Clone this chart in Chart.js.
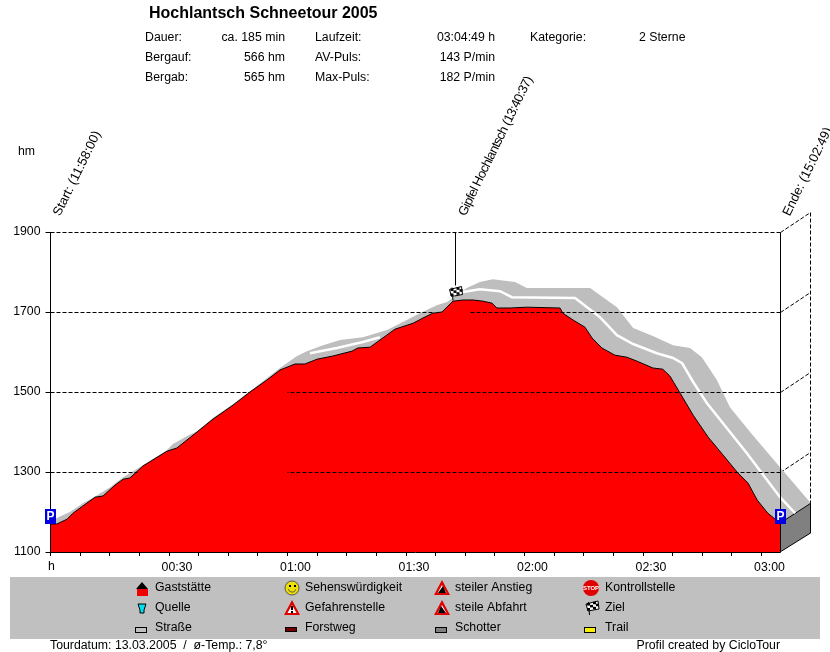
<!DOCTYPE html>
<html>
<head>
<meta charset="utf-8">
<title>Hochlantsch Schneetour 2005</title>
<script src="https://cdn.jsdelivr.net/npm/chart.js@4"></script>
<style>
body { margin: 0; background: #fff; }
#wrap { width: 830px; height: 652px; }
</style>
</head>
<body>
<div id="wrap"><canvas id="myChart" width="830" height="652"></canvas></div>
<script>
// front edge of the profile (red)
const profileMinutes = [0, 1.6, 4.2, 5.7, 8.2, 11.3, 13.3, 16.3, 18.4, 20.1, 23.4, 29.5, 32, 37.1, 41.1, 46.2, 50.5, 54.8, 58.1, 61.9, 64.4, 67.5, 71.5, 76.3, 77.8, 80.9, 87.2, 91.8, 94.3, 96.8, 99.1, 101.9, 104.4, 107, 109.5, 111.8, 113, 116.3, 120.6, 129, 129.7, 132.3, 135.3, 137.1, 139.6, 142.9, 145.9, 148.5, 152.5, 155, 156.8, 159.4, 162.7, 166.5, 170.3, 173.8, 176.6, 178.9, 181.6, 184.7];
const profileHm = [1170, 1170, 1182, 1197, 1215, 1237, 1240, 1267, 1282, 1285, 1315, 1352, 1360, 1400, 1432, 1467, 1500, 1530, 1555, 1570, 1570, 1582, 1590, 1602, 1610, 1612, 1657, 1672, 1685, 1697, 1700, 1727, 1730, 1730, 1727, 1722, 1710, 1710, 1712, 1710, 1697, 1680, 1662, 1635, 1610, 1592, 1587, 1577, 1560, 1557, 1540, 1497, 1442, 1387, 1342, 1300, 1272, 1230, 1197, 1172];

// back edge of the road band (grey)
const bandMinutes = [0.1, 1.6, 4.9, 8.2, 11.8, 15.1, 18.4, 20.1, 23.4, 29.5, 31, 34.6, 37.1, 41.1, 46.2, 50.5, 54.8, 58.1, 62.4, 64.9, 69, 73.3, 79.1, 85.2, 89.2, 93.5, 97.8, 100.4, 105.4, 108.7, 112, 117.6, 120.6, 136.6, 143.4, 147.5, 152.5, 157.6, 161.9, 164.9, 168.7, 172, 177.8, 184.7, 192.5];
const bandHm = [1172, 1185, 1200, 1222, 1242, 1262, 1287, 1297, 1317, 1355, 1370, 1390, 1402, 1435, 1470, 1502, 1535, 1560, 1590, 1602, 1617, 1630, 1637, 1655, 1675, 1697, 1717, 1725, 1760, 1775, 1782, 1775, 1760, 1760, 1712, 1660, 1640, 1617, 1610, 1587, 1530, 1462, 1392, 1312, 1222];

// white centre line, null = hidden stretch
const centreMinutes = [65.7, 72.5, 79.1, 83.4, null, 104.4, 108.7, 113.8, 116.8, 132.8, 139.1, 143.4, 147.5, 153.5, 157.6, 159.9, 162.7, 166.2, 171.2, 176.3, 181.4, 184.7, 188.5];
const centreHm = [1597, 1610, 1625, 1637, null, 1750, 1757, 1752, 1737, 1735, 1687, 1642, 1620, 1597, 1585, 1572, 1525, 1472, 1410, 1347, 1280, 1237, 1197];

// side wall at the end of the band
const sideMinutes = [184.7, 192.5, 192.5, 184.7];
const sideHm = [1172, 1222, 1148, 1100];

const yTicks = [1100, 1300, 1500, 1700, 1900];
const xTicks = [0, 7.5, 15, 22.5, 30, 37.5, 45, 52.5, 60, 67.5, 75, 82.5, 90, 97.5, 105, 112.5, 120, 127.5, 135, 142.5, 150, 157.5, 165, 172.5, 180];
const xLabels = { 30: '00:30', 60: '01:00', 90: '01:30', 120: '02:00', 150: '02:30', 180: '03:00' };

const endMinute = 184.7;
const wallMinute = 192.5;
const depthHm = 48;
const summitMinute = 102.6;

const markerMinutes = [0, summitMinute, endMinute];
const markerTexts = ['Start: (11:58:00)', 'Gipfel Hochlantsch (13:40:37)', 'Ende: (15:02:49)'];
const markerSpacing = ['0px', '-0.65px', '0px'];

const title = 'Hochlantsch Schneetour 2005';
const statColumns = [
    { labels: ['Dauer:', 'Bergauf:', 'Bergab:'], values: ['ca. 185 min', '566 hm', '565 hm'], lx: 145, vx: 285 },
    { labels: ['Laufzeit:', 'AV-Puls:', 'Max-Puls:'], values: ['03:04:49 h', '143 P/min', '182 P/min'], lx: 315, vx: 495 }
];
const legendNames = [
    ['Gaststätte', 'Quelle', 'Straße'],
    ['Sehenswürdigkeit', 'Gefahrenstelle', 'Forstweg'],
    ['steiler Anstieg', 'steile Abfahrt', 'Schotter'],
    ['Kontrollstelle', 'Ziel', 'Trail']
];

const FAMILY = '"Liberation Sans", Arial, sans-serif';
const FONT = '12.3px ' + FAMILY;

function toPoints(xs, ys) {
    return xs.map((x, i) => ({ x: x, y: ys[i] }));
}

function crisp(v) {
    return Math.round(v - 0.5) + 0.5;
}

function line(ctx, x1, y1, x2, y2, dash) {
    ctx.save();
    ctx.strokeStyle = '#000';
    ctx.lineWidth = 1;
    ctx.setLineDash(dash ? [4, 2] : []);
    ctx.beginPath();
    ctx.moveTo(x1, y1);
    ctx.lineTo(x2, y2);
    ctx.stroke();
    ctx.restore();
}

function text(ctx, str, x, y, align, font, color) {
    ctx.font = font || FONT;
    ctx.fillStyle = color || '#000';
    ctx.textAlign = align || 'left';
    ctx.textBaseline = 'middle';
    ctx.fillText(str, x, y + 1);
}

function poly(ctx, pts, fill, stroke) {
    ctx.beginPath();
    pts.forEach((p, i) => i ? ctx.lineTo(p[0], p[1]) : ctx.moveTo(p[0], p[1]));
    ctx.closePath();
    if (fill) { ctx.fillStyle = fill; ctx.fill(); }
    if (stroke) { ctx.strokeStyle = stroke; ctx.lineWidth = 1; ctx.stroke(); }
}

function drawFlag(ctx, x, y) {
    // x,y = foot of the pole
    line(ctx, x + 0.5, y, x - 0.5, y - 13);
    poly(ctx, [[x - 3, y - 11], [x + 9, y - 14], [x + 10, y - 6], [x - 1, y - 4]], '#fff', '#000');
    ctx.fillStyle = '#000';
    for (let r = 0; r < 3; r++) {
        for (let c = 0; c < 4; c++) {
            if ((r + c) % 2 === 0) ctx.fillRect(x - 2 + c * 3, y - 12 + r * 2.5 - c * 0.6, 3, 2.5);
        }
    }
}

function drawParking(ctx, x, y) {
    ctx.fillStyle = '#0000e0';
    ctx.fillRect(x - 5.5, y - 7, 11, 15);
    text(ctx, 'P', x, y, 'center', 'bold 12px ' + FAMILY, '#fff');
}

function warnTriangle(ctx, cx, cy) {
    poly(ctx, [[cx, cy - 8], [cx + 8, cy + 7], [cx - 8, cy + 7]], '#e00000');
    poly(ctx, [[cx, cy - 3], [cx + 4.5, cy + 5], [cx - 4.5, cy + 5]], '#fff');
}

const legendIcons = [
    [
        (c, x, y) => { c.fillStyle = '#f00000'; c.fillRect(x - 5, y + 1, 11, 7); poly(c, [[x, y - 6], [x + 6, y + 1], [x - 6, y + 1]], '#000'); },
        (c, x, y) => { poly(c, [[x - 4, y - 4], [x + 4, y - 4], [x + 2, y + 2], [x + 2, y + 5], [x - 2, y + 5], [x - 2, y + 2]], '#00e0f0', '#000'); },
        (c, x, y) => { c.fillStyle = '#c0c0c0'; c.strokeStyle = '#000'; c.lineWidth = 1; c.fillRect(x - 6.5, y - 0.5, 11, 5); c.strokeRect(x - 6.5, y - 0.5, 11, 5); }
    ],
    [
        (c, x, y) => {
            c.beginPath(); c.arc(x, y, 7, 0, Math.PI * 2); c.fillStyle = '#f0e000'; c.fill(); c.strokeStyle = '#555'; c.lineWidth = 1; c.stroke();
            c.fillStyle = '#000'; c.fillRect(x - 3, y - 3, 2, 2); c.fillRect(x + 2, y - 3, 2, 2);
            c.beginPath(); c.arc(x, y, 4, 0.3, Math.PI - 0.3); c.stroke();
        },
        (c, x, y) => { warnTriangle(c, x, y); c.fillStyle = '#000'; c.fillRect(x - 1, y - 2, 2, 4); c.fillRect(x - 1, y + 3, 2, 2); },
        (c, x, y) => { c.fillStyle = '#700000'; c.strokeStyle = '#000'; c.lineWidth = 1; c.fillRect(x - 6.5, y - 0.5, 11, 4); c.strokeRect(x - 6.5, y - 0.5, 11, 4); }
    ],
    [
        (c, x, y) => { warnTriangle(c, x, y); poly(c, [[x + 4, y + 5], [x - 4, y + 5], [x + 1, y - 2]], '#000'); },
        (c, x, y) => { warnTriangle(c, x, y); poly(c, [[x - 4, y + 5], [x + 4, y + 5], [x - 1, y - 2]], '#000'); },
        (c, x, y) => { c.fillStyle = '#808080'; c.strokeStyle = '#000'; c.lineWidth = 1; c.fillRect(x - 6.5, y - 0.5, 11, 5); c.strokeRect(x - 6.5, y - 0.5, 11, 5); }
    ],
    [
        (c, x, y) => {
            c.beginPath(); c.arc(x, y, 8, 0, Math.PI * 2); c.fillStyle = '#e00000'; c.fill();
            c.font = 'bold 6px ' + FAMILY; c.fillStyle = '#fff'; c.textAlign = 'center'; c.textBaseline = 'middle'; c.fillText('STOP', x, y + 0.5);
        },
        (c, x, y) => { drawFlag(c, x - 2, y + 7); },
        (c, x, y) => { c.fillStyle = '#f8f000'; c.strokeStyle = '#000'; c.lineWidth = 1; c.fillRect(x - 6.5, y - 0.5, 11, 5); c.strokeRect(x - 6.5, y - 0.5, 11, 5); }
    ]
];

// stretches (minutes) where the red area covers the dashes of a grid level
const hiddenDashes = { 1300: [22, 60], 1500: [50.5, 60], 1700: [97, 106] };

const framePlugin = {
    id: 'frame',
    beforeDatasetsDraw(chart) {
        const ctx = chart.ctx;
        const xs = chart.scales.x;
        const ys = chart.scales.y;
        const endX = crisp(xs.getPixelForValue(endMinute));
        const wallX = crisp(xs.getPixelForValue(wallMinute));
        yTicks.forEach(v => {
            if (v > 1100) {
                line(ctx, endX, crisp(ys.getPixelForValue(v)), wallX, crisp(ys.getPixelForValue(v + depthHm)), true);
            }
        });
        line(ctx, wallX, crisp(ys.getPixelForValue(1900 + depthHm)), wallX, crisp(ys.getPixelForValue(bandHm[bandHm.length - 1])), true);
    },
    afterDatasetsDraw(chart) {
        const ctx = chart.ctx;
        const xs = chart.scales.x;
        const ys = chart.scales.y;
        const top = crisp(ys.getPixelForValue(1900));
        const bottom = crisp(ys.getPixelForValue(1100));
        const startX = crisp(xs.getPixelForValue(0));
        const endX = crisp(xs.getPixelForValue(endMinute));

        // dashed grid, interrupted where the red area covers it
        yTicks.forEach(v => {
            if (v === 1100) return;
            const y = crisp(ys.getPixelForValue(v));
            const gap = hiddenDashes[v];
            ctx.save();
            if (gap) {
                const a = xs.getPixelForValue(gap[0]);
                const b = xs.getPixelForValue(gap[1]);
                ctx.beginPath();
                ctx.rect(startX, y - 2, a - startX, 4);
                ctx.rect(b, y - 2, endX - b, 4);
                ctx.clip();
            }
            line(ctx, startX, y, endX, y, true);
            ctx.restore();
        });

        line(ctx, startX, top, startX, bottom);
        line(ctx, endX, top, endX, bottom);
        line(ctx, startX, bottom, endX, bottom);

        // summit marker
        const sumX = crisp(xs.getPixelForValue(summitMinute));
        line(ctx, sumX, top, sumX, crisp(ys.getPixelForValue(1767)));
        drawFlag(ctx, sumX - 3, crisp(ys.getPixelForValue(1730)));

        drawParking(ctx, startX, 516);
        drawParking(ctx, endX, 516);

        // rotated labels above the chart
        markerMinutes.forEach((m, i) => {
            ctx.save();
            ctx.translate(xs.getPixelForValue(m) + 10, 217);
            ctx.rotate(-64 * Math.PI / 180);
            ctx.letterSpacing = markerSpacing[i];
            text(ctx, markerTexts[i], 0, -5, 'left', '13px ' + FAMILY);
            ctx.restore();
        });

        // header
        text(ctx, title, 149, 13, 'left', 'bold 16px ' + FAMILY);
        statColumns.forEach(col => {
            col.labels.forEach((l, i) => {
                text(ctx, l, col.lx, 37 + i * 20);
                text(ctx, col.values[i], col.vx, 37 + i * 20, 'right');
            });
        });
        text(ctx, 'Kategorie:', 530, 37);
        text(ctx, '2 Sterne', 639, 37);
        text(ctx, 'hm', 18, 151);
        text(ctx, 'h', 51.5, 566, 'center');

        // legend panel
        ctx.fillStyle = '#c0c0c0';
        ctx.fillRect(10, 577, 810, 62);
        const iconX = [142, 292, 442, 591];
        const textX = [155, 305, 455, 605];
        legendNames.forEach((names, c) => {
            names.forEach((n, r) => {
                const y = 588 + r * 20;
                legendIcons[c][r](ctx, iconX[c], y);
                text(ctx, n, textX[c], y - 1);
            });
        });

        text(ctx, 'Tourdatum: 13.03.2005  /  ø-Temp.: 7,8°', 50, 645);
        text(ctx, 'Profil created by CicloTour', 780, 645, 'right');
    }
};

new Chart(document.getElementById('myChart'), {
    type: 'scatter',
    data: {
        datasets: [
            {
                label: 'Höhenprofil',
                data: toPoints(profileMinutes, profileHm),
                showLine: true,
                pointRadius: 0,
                borderColor: '#000',
                borderWidth: 1,
                backgroundColor: '#ff0000',
                fill: 'start',
                order: 1
            },
            {
                label: 'Mittellinie',
                data: toPoints(centreMinutes, centreHm),
                showLine: true,
                pointRadius: 0,
                borderColor: '#ffffff',
                borderWidth: 2.5,
                fill: false,
                spanGaps: false,
                order: 2
            },
            {
                label: 'Seite',
                data: toPoints(sideMinutes, sideHm),
                showLine: true,
                pointRadius: 0,
                borderColor: '#000',
                borderWidth: 1,
                backgroundColor: '#808080',
                fill: 'shape',
                order: 3
            },
            {
                label: 'Band',
                data: toPoints(bandMinutes, bandHm).concat(toPoints(profileMinutes, profileHm).reverse()),
                showLine: true,
                pointRadius: 0,
                borderWidth: 0,
                backgroundColor: '#bebebe',
                fill: 'shape',
                order: 4
            }
        ]
    },
    options: {
        responsive: false,
        animation: false,
        layout: { padding: { left: 0, right: 19, top: 212, bottom: 70 } },
        plugins: {
            legend: { display: false },
            title: { display: false },
            tooltip: { enabled: false }
        },
        scales: {
            x: {
                type: 'linear',
                min: 0,
                max: wallMinute + 0.03,
                afterBuildTicks(scale) { scale.ticks = xTicks.map(v => ({ value: v })); },
                afterFit(scale) { scale.height = 30; },
                border: { display: false },
                grid: { drawOnChartArea: false, color: '#000', tickLength: 4 },
                ticks: {
                    autoSkip: false,
                    maxRotation: 0,
                    labelOffset: 8,
                    padding: 4,
                    color: '#000',
                    font: { family: FAMILY, size: 12.3 },
                    callback: v => xLabels[v] || ''
                }
            },
            y: {
                min: 1100,
                max: 1950,
                afterBuildTicks(scale) { scale.ticks = yTicks.map(v => ({ value: v })); },
                afterFit(scale) { scale.width = 50.5; },
                border: { display: false },
                grid: { drawOnChartArea: false, color: '#000', tickLength: 5 },
                ticks: {
                    padding: 5,
                    color: '#000',
                    font: { family: FAMILY, size: 12.3 },
                    callback: v => String(v)
                }
            }
        }
    },
    plugins: [framePlugin]
});
</script>
</body>
</html>
